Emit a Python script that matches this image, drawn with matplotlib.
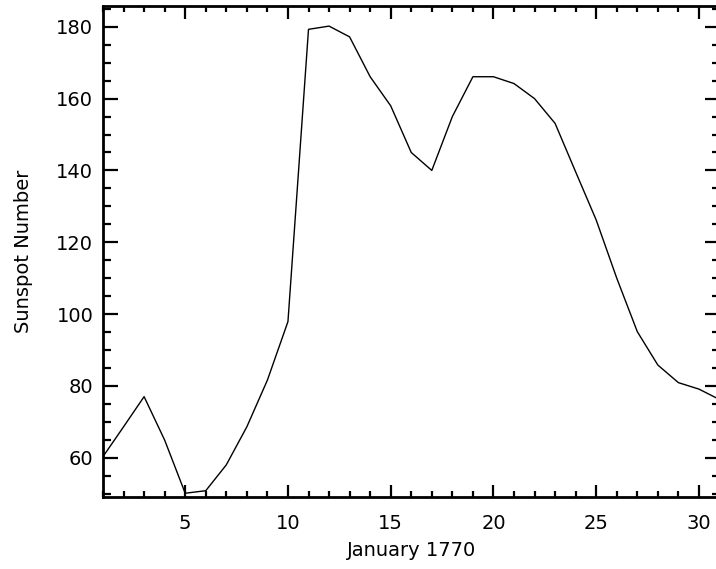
import numpy as np
import matplotlib
matplotlib.use("Agg")
import matplotlib.pyplot as plt
from matplotlib.ticker import MultipleLocator

# daily sunspot numbers, January 1770
days = list(range(1, 32))
sunspots = [60.3, 68.6, 77.0, 64.9, 50.1, 50.8, 58.0, 68.6, 81.6, 97.9,
            179.3, 180.2, 177.2, 166.1, 158.0, 145.0, 140.0, 155.0, 166.1, 166.1,
            164.2, 160.0, 153.1, 139.6, 126.2, 110.0, 95.1, 85.8, 80.9, 79.1,
            76.2]

xlabel = "January 1770"
ylabel = "Sunspot Number"

plt.rcParams['font.family'] = ['DejaVu Sans']

fig = plt.figure(figsize=(7.16, 5.69), dpi=100)
ax = fig.add_axes([103 / 716, 1 - 497 / 569, 616.5 / 716, 491 / 569])

ax.plot(days, sunspots, color='black', lw=1.0)

ax.set_xlim(1, 31)
ax.set_ylim(49.05, 185.8)

ax.xaxis.set_major_locator(MultipleLocator(5))
ax.xaxis.set_minor_locator(MultipleLocator(1))
ax.yaxis.set_major_locator(MultipleLocator(20))
ax.yaxis.set_minor_locator(MultipleLocator(5))

for s in ax.spines.values():
    s.set_linewidth(2.0)

ax.tick_params(which='both', direction='in', top=True, right=True,
               width=1.6, colors='black', labelsize=14)
ax.tick_params(axis='x', which='major', length=9, pad=12)
ax.tick_params(axis='x', which='minor', length=4.5)
ax.tick_params(axis='y', which='major', length=11, pad=7)
ax.tick_params(axis='y', which='minor', length=6)

ax.set_xlabel(xlabel, fontsize=14)
ax.set_ylabel(ylabel, fontsize=14)
ax.xaxis.set_label_coords(0.5, -0.089)
ax.yaxis.set_label_coords(-0.1135, 0.5)

fig.savefig("out.png", dpi=100)
